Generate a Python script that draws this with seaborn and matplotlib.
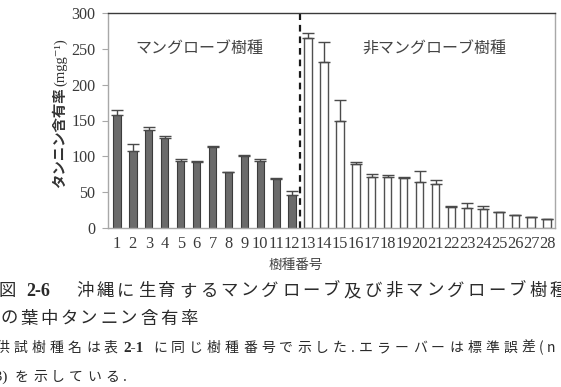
import numpy as np
import pandas as pd
import matplotlib
matplotlib.use('Agg')
import matplotlib.pyplot as plt
import seaborn as sns

# data
species_no = [str(i) for i in range(1, 29)]
mangrove = [158, 107, 137, 126, 94, 92, 113, 78, 100, 93, 68, 46]
err_mangrove = [6, 10, 4, 3, 2, 0.8, 0.8, 0.8, 2, 3, 2, 5.5]
non_mangrove = [265, 232, 150, 90, 71, 71, 70, 64, 62, 30, 28, 27, 22, 18, 15, 12]
err_non = [7, 27, 29, 2, 5, 3, 1.5, 15, 4.5, 0.8, 7, 4, 0.8, 0.8, 0.8, 0.8]
group_names = ['マングローブ樹種', '非マングローブ樹種']

df = pd.DataFrame({
    'no': species_no,
    'tannin': mangrove + non_mangrove,
    'err': err_mangrove + err_non,
    'group': [group_names[0]] * len(mangrove) + [group_names[1]] * len(non_mangrove),
})

sns.set_style('white')
jp = ['Noto Sans CJK JP', 'DejaVu Sans']
serif = ['Liberation Serif', 'DejaVu Serif']
plt.rcParams['font.family'] = jp

W, H = 561, 387
fig = plt.figure(figsize=(W / 100, H / 100), dpi=100)
ax = fig.add_axes([108 / W, 1 - 228 / H, 447 / W, 215 / H])

sns.barplot(data=df, x='no', y='tannin', hue='group', order=species_no,
            palette={group_names[0]: '#6b6b6b', group_names[1]: 'white'},
            dodge=False, width=0.46, legend=False, errorbar=None, ax=ax)
for p in ax.patches:
    if p.get_facecolor()[0] > 0.9:
        p.set_edgecolor('#505050')
        p.set_linewidth(1.0)
    else:
        p.set_edgecolor('#3c3c3c')
        p.set_linewidth(0.8)

# upper-only error bars
xpos = np.arange(len(species_no))
ax.errorbar(xpos, df['tannin'], yerr=[np.zeros(len(df)), df['err']], fmt='none',
            ecolor='#4a4a4a', elinewidth=1.0, capsize=4, capthick=1.0)

ax.axvline(11.5, color='#1a1a1a', ls=(0, (3, 2.2)), lw=1.6)

ax.set_xlim(-0.56, 27.5)
ax.set_ylim(0, 300)
ax.set_yticks(range(0, 301, 50))
ax.set_xlabel('')
ax.set_ylabel('')

for s in ['left', 'bottom', 'right']:
    ax.spines[s].set_color('#a8a8a8')
    ax.spines[s].set_linewidth(1.0)
ax.spines['top'].set_color('#3a3a3a')
ax.spines['top'].set_linewidth(1.0)

ax.tick_params(axis='y', length=4, width=0.8, color='#a8a8a8', pad=5, left=True,
               labelsize=11.6, labelcolor='#3a3a3a', labelfontfamily='Liberation Serif')
ax.tick_params(axis='x', length=0, pad=6,
               labelsize=11.8, labelcolor='#3a3a3a', labelfontfamily='Liberation Serif')

# y label: Japanese part bold, unit part in serif
yl1 = fig.text(60 / W, 1 - 188 / H, 'タンニン含有率', rotation=90, ha='center', va='bottom',
               fontsize=10.4, fontweight='bold', color='#333333')
fig.canvas.draw()
bb = yl1.get_window_extent()
fig.text(61 / W, (bb.y1 + 1) / H, '(mgg⁻¹)', rotation=90, ha='center', va='bottom',
         fontsize=10.5, color='#333333', family=serif)

ax.text(5.15, 251, group_names[0], ha='center', va='center', fontsize=11.5, color='#444444')
ax.text(19.96, 251, group_names[1], ha='center', va='center', fontsize=11.5, color='#444444')

fig.text(296 / W, 1 - 265 / H, '樹種番号', ha='center', va='center', fontsize=9.8, color='#444444')


# caption below the chart, drawn one character at a time to get the wide spacing
def spaced(x0, y, text, pitch, size, color='#2a2a2a'):
    x = x0
    for ch in text:
        fig.text(x / W, 1 - y / H, ch, ha='left', va='center', fontsize=size, color=color)
        x += pitch * (0.45 if ch in '.()n' else 1.0)
    return x


cap_color = '#2a2a2a'
fig.text(-2 / W, 1 - 291 / H, '図', ha='left', va='center', fontsize=12.5, color=cap_color)
fig.text(26 / W, 1 - 291 / H, '2-6', ha='left', va='center', fontsize=13, color=cap_color,
         family=serif, fontweight='bold')
spaced(76, 291, '沖縄に生育するマングローブ及び非マングローブ樹種', 20.6, 12.5)
spaced(0, 319, 'の葉中タンニン含有率', 20.0, 12.5)

spaced(-4, 348, '供試樹種名は表', 18.0, 10)
fig.text(123 / W, 1 - 348 / H, '2-1', ha='left', va='center', fontsize=11, color=cap_color,
         family=serif, fontweight='bold')
spaced(153, 348, 'に同じ樹種番号で示した.エラーバーは標準誤差(n', 18.0, 10)

fig.text(8 / W, 1 - 377 / H, '=3)', ha='right', va='center', fontsize=11, color=cap_color,
         family=serif)
spaced(15, 377, 'を示している.', 18.0, 10)

fig.savefig('out.png', dpi=100)
